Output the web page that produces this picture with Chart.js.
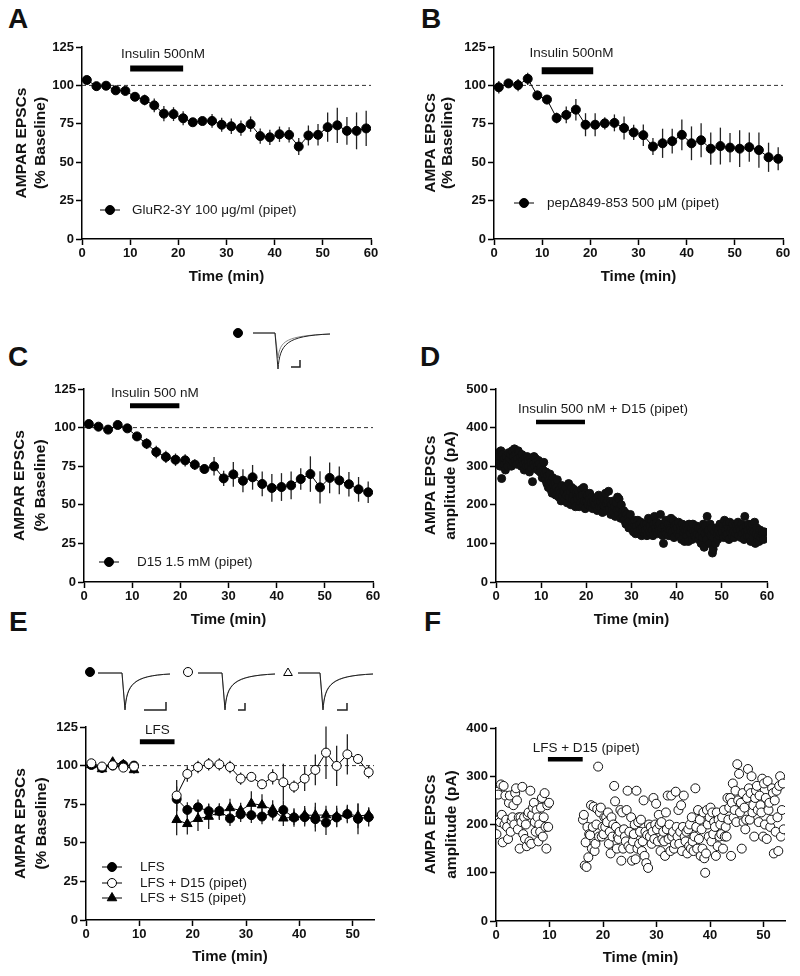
<!DOCTYPE html>
<html>
<head>
<meta charset="utf-8">
<script src="https://cdn.jsdelivr.net/npm/chart.js@4.4.0/dist/chart.umd.min.js"></script>
<style>
  body { margin: 0; background: #fff; width: 800px; height: 976px; position: relative; overflow: hidden; }
  canvas { position: absolute; }
  .letter { position: absolute; font: bold 28px 'Liberation Sans', Arial, sans-serif; line-height: 28px; color: #111; }
</style>
</head>
<body>
<div class="letter" style="left:8px;top:5px">A</div>
<div class="letter" style="left:421px;top:5px">B</div>
<div class="letter" style="left:8px;top:343px">C</div>
<div class="letter" style="left:420px;top:343px">D</div>
<div class="letter" style="left:9px;top:608px">E</div>
<div class="letter" style="left:424px;top:608px">F</div>

<canvas id="chartA" width="400" height="290" style="left:0;top:0"></canvas>
<canvas id="chartB" width="400" height="290" style="left:400px;top:0"></canvas>
<canvas id="chartC" width="400" height="343" style="left:0;top:290px"></canvas>
<canvas id="chartD" width="400" height="343" style="left:400px;top:290px"></canvas>
<canvas id="chartE" width="400" height="360" style="left:0;top:610px"></canvas>
<canvas id="chartF" width="400" height="361" style="left:400px;top:610px"></canvas>

<script>
// x tick labels
var ticks60 = [0, 10, 20, 30, 40, 50, 60];
var ticks54 = [0, 10, 20, 30, 40, 50];

// time points (min) of the averaged panels A-C
var timeA = [1, 3, 5, 7, 9, 11, 13, 15, 17, 19, 21, 23, 25, 27, 29, 31, 33, 35, 37, 39, 41, 43, 45, 47, 49, 51, 53, 55, 57, 59];

// A: GluR2-3Y 100 ug/ml (pipet)
var glur = [103.5, 99.5, 99.8, 96.8, 96.4, 92.6, 90.5, 87.0, 81.6, 81.3, 78.6, 76.0, 76.8, 76.9, 74.4, 73.4, 72.2, 74.8, 67.0, 66.2, 68.2, 67.8, 60.2, 67.4, 67.8, 72.8, 74.0, 70.4, 70.4, 72.0];
var glurSem = [2, 1.5, 1.5, 1.5, 1.5, 2.5, 3.5, 4.5, 5, 4.5, 4.5, 2.5, 2.5, 4.5, 4.5, 5, 5, 5, 5, 5, 5, 5, 5.5, 6.5, 7, 9.5, 11.5, 9, 12, 11.5];

// B: pep-delta 849-853 500 uM (pipet)
var pep = [98.8, 101.3, 100.2, 104.3, 93.5, 90.8, 78.8, 80.8, 84.2, 74.4, 74.4, 75.3, 75.6, 72.2, 69.4, 67.6, 60.2, 62.3, 63.7, 67.8, 62.3, 64.3, 58.8, 60.5, 59.5, 58.8, 59.8, 57.9, 53.2, 52.2];
var pepSem = [4, 2, 4, 4, 3, 3, 3.5, 5.5, 7, 7.5, 7.5, 4, 5.5, 7.5, 5, 7, 5.5, 9.5, 8, 10, 11, 11, 10.5, 12, 9.5, 12, 9.5, 11.5, 9.5, 7.5];

// C: D15 1.5 mM (pipet)
var d15 = [102.3, 100.6, 98.7, 101.7, 99.5, 94.3, 89.6, 84.2, 81.0, 79.2, 78.8, 76.0, 73.2, 74.9, 67.1, 69.7, 65.6, 67.8, 63.5, 60.9, 61.5, 62.6, 66.7, 69.9, 61.3, 67.4, 65.8, 63.3, 60.0, 58.1];
var d15Sem = [1.5, 1.5, 2, 1.5, 1.5, 2.5, 3.5, 4, 4, 4, 4, 3.5, 3, 6, 5, 8, 7.5, 8, 8, 9, 9, 9, 7, 11.5, 10.5, 10, 9, 8, 8, 7];

// E: LFS experiments
var timeE = [1, 3, 5, 7, 9, 17, 19, 21, 23, 25, 27, 29, 31, 33, 35, 37, 39, 41, 43, 45, 47, 49, 51, 53];
var lfs = [100.4, 98.5, 100, 100.4, 100, 78.4, 71.3, 73.0, 70.5, 70.6, 65.8, 68.4, 67.9, 67.0, 69.4, 71.2, 66.4, 66.6, 65.3, 63.1, 66.4, 68.6, 65.5, 66.6];
var lfsSem = [2, 2.5, 2, 2, 2, 8, 5, 5, 5, 5, 5, 5, 5, 5, 5, 6, 6, 6, 8, 8, 6, 6, 10, 6];
var lfsD15 = [101.5, 99.4, 100.2, 98.7, 99.4, 80.6, 94.6, 99.1, 100.9, 100.8, 99.1, 91.6, 92.7, 87.9, 92.7, 89.2, 86.4, 91.6, 97.2, 108.4, 99.8, 107.3, 104.3, 95.7];
var lfsD15Sem = [2, 2, 2, 2, 2, 10, 5, 4, 4, 4, 4, 4, 3, 3, 5, 12, 4, 8, 10, 17, 13, 13, 3, 4];
var lfsS15 = [100.4, 97.8, 102.2, 100.6, 97.2, 64.9, 62.3, 65.6, 67.0, 69.8, 72.6, 70.9, 75.4, 74.4, 71.6, 65.9, 66.6, 67.8, 67.9, 68.0, 67.0, 68.6, 67.4, 68.0];
var lfsS15Sem = [2, 2.5, 2.5, 2, 2.5, 10, 7, 8, 8, 5, 6, 5, 8, 7, 6, 5, 5, 6, 8, 6, 7, 5, 8, 5];

// D: single cell amplitudes (pA), one row per minute, 6 sweeps per minute
var ampD = [
  [330, 320, 335, 310, 325, 300], [340, 268, 330, 315, 305, 320], [290, 325, 310, 300, 335, 315],
  [320, 330, 300, 340, 310, 325], [345, 315, 330, 305, 320, 340], [335, 310, 325, 300, 330, 315],
  [305, 290, 320, 310, 300, 325], [315, 300, 285, 320, 310, 295], [260, 305, 325, 300, 320, 310],
  [300, 290, 315, 305, 285, 295], [300, 270, 290, 310, 280, 265], [285, 255, 275, 245, 265, 280],
  [240, 260, 230, 270, 250, 235], [255, 225, 245, 265, 235, 220], [240, 230, 210, 250, 225, 235],
  [235, 215, 245, 225, 205, 230], [255, 220, 235, 200, 245, 215], [225, 240, 210, 195, 230, 220],
  [215, 235, 195, 220, 205, 240], [225, 200, 245, 210, 190, 230], [210, 225, 200, 215, 230, 195],
  [205, 220, 190, 210, 200, 215], [200, 215, 185, 205, 225, 195], [210, 190, 220, 180, 200, 215],
  [195, 230, 205, 185, 210, 235], [190, 205, 175, 200, 185, 210], [180, 195, 170, 205, 185, 220],
  [175, 215, 190, 165, 200, 180], [170, 185, 160, 180, 150, 175], [150, 165, 140, 160, 175, 145],
  [140, 155, 130, 150, 160, 125], [145, 130, 160, 125, 150, 135], [155, 120, 140, 130, 150, 125],
  [135, 150, 120, 140, 165, 130], [145, 125, 160, 135, 120, 150], [170, 140, 130, 155, 125, 145],
  [135, 150, 175, 130, 140, 120], [100, 145, 130, 160, 125, 140], [150, 120, 140, 135, 165, 125],
  [130, 160, 115, 145, 135, 150], [140, 125, 155, 120, 135, 145], [110, 150, 130, 140, 105, 135],
  [145, 120, 135, 105, 150, 130], [125, 140, 110, 150, 130, 120], [135, 115, 145, 125, 140, 110],
  [120, 140, 100, 130, 115, 150], [90, 125, 145, 110, 170, 130], [135, 100, 150, 120, 140, 75],
  [85, 115, 130, 100, 140, 120], [110, 135, 120, 150, 125, 140], [130, 145, 115, 160, 135, 120],
  [150, 125, 140, 110, 155, 130], [140, 120, 150, 130, 115, 145], [125, 145, 135, 155, 120, 140],
  [135, 115, 150, 125, 140, 110], [170, 130, 145, 120, 135, 150], [120, 140, 105, 130, 150, 115],
  [130, 155, 100, 125, 140, 110], [120, 105, 135, 115, 125, 130], [125, 110, 130]
];

// F: single cell amplitudes (pA), one row per minute, 6 sweeps per minute (no recording during LFS)
var ampF = [
  [180, 268, 262, 210, 205, 283], [220, 163, 280, 200, 260, 210], [195, 170, 245, 260, 185, 208],
  [215, 240, 200, 265, 275, 250], [190, 215, 150, 215, 205, 278], [180, 215, 170, 200, 155, 220],
  [225, 165, 270, 160, 220, 235], [245, 205, 185, 230, 215, 165], [200, 185, 235, 255, 175, 215],
  [265, 195, 150, 240, 195, 245], [], [], [], [], [], [],
  [null, 210, 220, 115, 163, 112], [195, 132, 180, 178, 240, 150], [195, 237, 145, 160, 200, 232],
  [320, 175, 225, 235, 175, 195], [180, 215, 195, 215, 205, 225], [160, 185, 140, 215, 175, 200],
  [280, 248, 195, 150, 175, 170], [185, 230, 125, 225, 150, 190], [175, 165, 230, 270, 155, 185],
  [150, 215, 125, 165, 180, 200], [128, 270, 150, 205, 160, 185], [210, 145, 165, 250, 135, 185],
  [120, 178, 110, 200, 175, 195], [160, 185, 255, 170, 200, 243], [190, 165, 220, 200, 145, 205],
  [170, 185, 165, 135, 225, 190], [260, 170, 200, 145, 260, 175], [185, 150, 160, 268, 195, 175],
  [230, 160, 185, 240, 145, 195], [260, 175, 165, 185, 140, 190], [155, 200, 150, 215, 165, 145],
  [175, 275, 195, 150, 230, 170], [210, 135, 190, 150, 225, 130], [100, 140, 230, 200, 175, 215],
  [235, 165, 225, 180, 205, 195], [135, 225, 155, 210, 175, 200], [180, 215, 150, 230, 175, 195],
  [175, 255, 210, 235, 255, 135], [245, 285, 215, 230, 270, 205], [325, 250, 305, 225, 245, 150],
  [265, 205, 235, 190, 210, 255], [315, 275, 210, 265, 300, 225], [240, 175, 255, 270, 280, 230],
  [205, 260, 240, 225, 295, 175], [285, 200, 255, 170, 290, 230], [245, 195, 210, 275, 265, 140],
  [250, 185, 270, 215, 145, 280], [300, 175, 230, 285, 190]
];

var FONT = "'Liberation Sans', Arial, sans-serif";
Chart.defaults.font.family = FONT;
Chart.defaults.color = '#111';

function pairs(xs, ys) {
  return xs.map(function (x, i) { return { x: x, y: ys[i] }; });
}
function sweeps(rows) {
  var pts = [];
  rows.forEach(function (row, m) {
    row.forEach(function (v, k) {
      if (v != null) pts.push({ x: m + (k + 0.5) / 6, y: v });
    });
  });
  return pts;
}

function drawSymbol(ctx, style, fill, x, y, r) {
  ctx.save();
  ctx.fillStyle = fill ? '#000' : '#fff';
  ctx.strokeStyle = '#000';
  ctx.lineWidth = 1;
  Chart.helpers.drawPoint(ctx, { pointStyle: style, radius: r, borderWidth: 1, rotation: 0 }, x, y);
  ctx.restore();
}

function drawTrace(ctx, t) {
  drawSymbol(ctx, t.sym, t.fill, t.sx, t.sy, t.sym === 'triangle' ? 5 : 4.5);
  [['#8a8a8a', t.k], ['#222', 1]].forEach(function (p) {
    var yp = t.y0 + (t.y1 - t.y0) * p[1];
    ctx.strokeStyle = p[0];
    ctx.lineWidth = 1;
    ctx.beginPath();
    ctx.moveTo(t.x0, t.y0);
    ctx.lineTo(t.xd, t.y0);
    ctx.lineTo(t.xd + 3, yp);
    ctx.bezierCurveTo(t.xd + 5, t.y0 + (yp - t.y0) * 0.3, t.xd + 11, t.y0 + 3, t.x1, t.y0 + 1);
    ctx.stroke();
  });
  ctx.strokeStyle = '#222';
  ctx.lineWidth = 1.5;
  ctx.beginPath();
  ctx.moveTo(t.bx0, t.by);
  ctx.lineTo(t.bx1, t.by);
  ctx.lineTo(t.bx1, t.by - t.bh);
  ctx.stroke();
}

// per-chart drawing of baseline, drug bar, legend, error bars and example traces
function makeDecor(cfg) {
  return {
    id: 'decor',
    beforeDatasetsDraw: function (chart) {
      var ctx = chart.ctx, xs = chart.scales.x, ys = chart.scales.y;
      ctx.save();
      if (cfg.baseline != null) {
        ctx.strokeStyle = '#333';
        ctx.lineWidth = 1;
        ctx.setLineDash([4, 3]);
        ctx.beginPath();
        ctx.moveTo(xs.getPixelForValue(xs.min), ys.getPixelForValue(cfg.baseline));
        ctx.lineTo(xs.getPixelForValue(xs.max), ys.getPixelForValue(cfg.baseline));
        ctx.stroke();
        ctx.setLineDash([]);
      }
      chart.data.datasets.forEach(function (ds, i) {
        if (!ds.errors) return;
        var meta = chart.getDatasetMeta(i);
        ctx.strokeStyle = '#222';
        ctx.lineWidth = 1.3;
        ds.data.forEach(function (p, j) {
          var e = ds.errors[j];
          var x = meta.data[j].x;
          ctx.beginPath();
          ctx.moveTo(x, ys.getPixelForValue(p.y - e));
          ctx.lineTo(x, ys.getPixelForValue(p.y + e));
          ctx.stroke();
        });
      });
      ctx.restore();
    },
    afterDatasetsDraw: function (chart) {
      var ctx = chart.ctx, xs = chart.scales.x, ys = chart.scales.y;
      ctx.save();
      var b = cfg.bar;
      ctx.strokeStyle = '#000';
      ctx.lineWidth = b.w;
      ctx.beginPath();
      ctx.moveTo(xs.getPixelForValue(b.x0), ys.getPixelForValue(b.y));
      ctx.lineTo(xs.getPixelForValue(b.x1), ys.getPixelForValue(b.y));
      ctx.stroke();
      ctx.fillStyle = '#1a1a1a';
      ctx.font = '13.5px ' + FONT;
      ctx.textAlign = 'center';
      ctx.textBaseline = 'middle';
      ctx.fillText(b.text, xs.getPixelForValue(b.tx), ys.getPixelForValue(b.ty));

      (cfg.legend || []).forEach(function (l) {
        ctx.strokeStyle = '#000';
        ctx.lineWidth = 1;
        ctx.beginPath();
        ctx.moveTo(l.x - 10, l.y);
        ctx.lineTo(l.x + 10, l.y);
        ctx.stroke();
        drawSymbol(ctx, l.style, l.fill, l.x, l.y, l.style === 'triangle' ? 5.5 : 4.5);
        ctx.fillStyle = '#1a1a1a';
        ctx.textAlign = 'left';
        ctx.fillText(l.label, l.tx, l.y);
      });
      (cfg.traces || []).forEach(function (t) { drawTrace(ctx, t); });
      ctx.restore();
    }
  };
}

function scales(g, xMax, xTicks, yMax, yStep, yTitle, tp, tlh) {
  return {
    x: {
      type: 'linear', min: 0, max: xMax,
      afterBuildTicks: function (s) { s.ticks = xTicks.map(function (v) { return { value: v }; }); },
      ticks: { font: { size: 13, weight: 'bold' }, padding: 1, maxRotation: 0, autoSkip: false, color: '#111' },
      grid: { drawOnChartArea: false, tickLength: 6, tickWidth: 1.5, tickColor: '#000' },
      border: { color: '#000', width: 1.5 },
      title: { display: true, text: 'Time (min)', color: '#111', font: { size: 15, weight: 'bold', lineHeight: '16px' }, padding: { top: 0, bottom: 5 } },
      afterFit: function (s) { s.height = g.h - g.cb; }
    },
    y: {
      type: 'linear', min: 0, max: yMax,
      ticks: { stepSize: yStep, font: { size: 13, weight: 'bold' }, padding: 2, color: '#111' },
      grid: { drawOnChartArea: false, tickLength: 6, tickWidth: 1.5, tickColor: '#000' },
      border: { color: '#000', width: 1.5 },
      title: { display: true, text: yTitle, color: '#111', font: { size: 15.5, weight: 'bold', lineHeight: tlh + 'px' }, padding: { top: tp, bottom: 0 } },
      afterFit: function (s) { s.width = g.cl; }
    }
  };
}

function make(id, g, datasets, sc, decor) {
  return new Chart(document.getElementById(id), {
    type: 'scatter',
    data: { datasets: datasets },
    options: {
      responsive: false,
      animation: false,
      events: [],
      devicePixelRatio: 1,
      layout: { padding: { left: 0, top: g.ct, right: g.w - g.cr, bottom: 0 } },
      plugins: { legend: { display: false }, tooltip: { enabled: false } },
      scales: sc
    },
    plugins: [makeDecor(decor)]
  });
}

function meanSeries(xs, ys, errs, style, fill) {
  return {
    data: pairs(xs, ys), errors: errs, showLine: true,
    borderColor: '#000', borderWidth: 1,
    pointStyle: style, pointRadius: style === 'triangle' ? 5.5 : 4.5,
    pointBackgroundColor: fill ? '#000' : '#fff', pointBorderColor: '#000', pointBorderWidth: 1,
    segment: { borderColor: function (c) { return c.p1.parsed.x - c.p0.parsed.x > 4 ? 'rgba(0,0,0,0)' : '#000'; } }
  };
}

var gA = { w: 400, h: 290, cl: 82, ct: 47, cr: 371, cb: 239 };
make('chartA', gA, [meanSeries(timeA, glur, glurSem, 'circle', true)],
  scales(gA, 60, ticks60, 125, 25, ['AMPAR EPSCs', '(% Baseline)'], 12.5, 19),
  { baseline: 100,
    bar: { x0: 10, x1: 21, y: 111, w: 6, text: 'Insulin 500nM', tx: 16.8, ty: 120 },
    legend: [{ label: 'GluR2-3Y 100 \u03bcg/ml (pipet)', style: 'circle', fill: true, x: 110, y: 210, tx: 132 }] });

var gB = { w: 400, h: 290, cl: 94, ct: 47, cr: 383, cb: 239 };
make('chartB', gB, [meanSeries(timeA, pep, pepSem, 'circle', true)],
  scales(gB, 60, ticks60, 125, 25, ['AMPA EPSCs', '(% Baseline)'], 22.5, 16.5),
  { baseline: 100,
    bar: { x0: 9.9, x1: 20.6, y: 109.5, w: 7, text: 'Insulin 500nM', tx: 16.1, ty: 121 },
    legend: [{ label: 'pep\u0394849-853 500 \u03bcM (pipet)', style: 'circle', fill: true, x: 124, y: 203, tx: 147 }] });

var gC = { w: 400, h: 343, cl: 84, ct: 99, cr: 373, cb: 292 };
make('chartC', gC, [meanSeries(timeA, d15, d15Sem, 'circle', true)],
  scales(gC, 60, ticks60, 125, 25, ['AMPAR EPSCs', '(% Baseline)'], 9.5, 21),
  { baseline: 100,
    bar: { x0: 9.55, x1: 19.8, y: 114.2, w: 5, text: 'Insulin 500 nM', tx: 14.7, ty: 122.2 },
    legend: [{ label: 'D15 1.5 mM (pipet)', style: 'circle', fill: true, x: 109, y: 272, tx: 137 }],
    traces: [{ sym: 'circle', fill: true, sx: 238, sy: 43, x0: 253, xd: 275, x1: 330, y0: 43, y1: 79, k: 0.7,
               bx0: 291, bx1: 300, by: 77, bh: 7 }] });

var gD = { w: 400, h: 343, cl: 96, ct: 99, cr: 367, cb: 292 };
make('chartD', gD, [{
    data: sweeps(ampD), showLine: false, pointRadius: 4,
    pointBackgroundColor: '#111', pointBorderColor: '#111', pointBorderWidth: 1
  }],
  scales(gD, 60, ticks60, 500, 100, ['AMPA EPSCs', 'amplitude (pA)'], 21, 20),
  { bar: { x0: 8.86, x1: 19.7, y: 414.5, w: 4.5, text: 'Insulin 500 nM + D15 (pipet)', tx: 23.7, ty: 447 } });

var gE = { w: 400, h: 360, cl: 86, ct: 117, cr: 374, cb: 310 };
make('chartE', gE, [
    meanSeries(timeE, lfsD15, lfsD15Sem, 'circle', false),
    meanSeries(timeE, lfs, lfsSem, 'circle', true),
    meanSeries(timeE, lfsS15, lfsS15Sem, 'triangle', true)
  ],
  scales(gE, 54, ticks54, 125, 25, ['AMPAR EPSCs', '(% Baseline)'], 10.5, 21),
  { baseline: 100,
    bar: { x0: 10.1, x1: 16.6, y: 115.5, w: 5, text: 'LFS', tx: 13.4, ty: 123 },
    legend: [
      { label: 'LFS', style: 'circle', fill: true, x: 112, y: 257, tx: 140 },
      { label: 'LFS + D15 (pipet)', style: 'circle', fill: false, x: 112, y: 273, tx: 140 },
      { label: 'LFS + S15 (pipet)', style: 'triangle', fill: true, x: 112, y: 288, tx: 140 }
    ],
    traces: [
      { sym: 'circle', fill: true, sx: 90, sy: 62, x0: 98, xd: 122, x1: 170, y0: 63, y1: 100, k: 0.96, bx0: 144, bx1: 166, by: 100, bh: 8 },
      { sym: 'circle', fill: false, sx: 188, sy: 62, x0: 198, xd: 222, x1: 275, y0: 63, y1: 100, k: 0.96, bx0: 238, bx1: 245, by: 100, bh: 7 },
      { sym: 'triangle', fill: false, sx: 288, sy: 63, x0: 298, xd: 320, x1: 373, y0: 63, y1: 100, k: 0.96, bx0: 337, bx1: 347, by: 100, bh: 7 }
    ] });

var gF = { w: 400, h: 361, cl: 96, ct: 118, cr: 385, cb: 311 };
make('chartF', gF, [{
    data: sweeps(ampF), showLine: false, pointRadius: 4.5,
    pointBackgroundColor: '#fff', pointBorderColor: '#111', pointBorderWidth: 1
  }],
  scales(gF, 54, ticks54, 400, 100, ['AMPA EPSCs', 'amplitude (pA)'], 20.5, 21),
  { bar: { x0: 9.7, x1: 16.2, y: 335, w: 4.5, text: 'LFS + D15 (pipet)', tx: 16.85, ty: 358 } });
</script>
</body>
</html>
